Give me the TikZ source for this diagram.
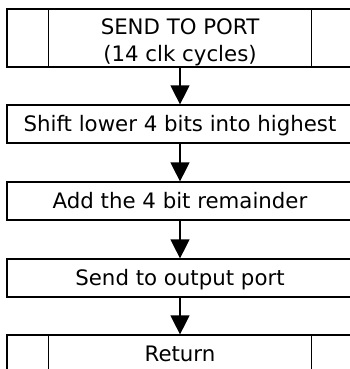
\documentclass[tikz,border=0pt]{standalone}
\usepackage{fontspec}
\setmainfont{DejaVu Sans}
\usetikzlibrary{arrows.meta}
\begin{document}
\begin{tikzpicture}[x=1pt,y=-1pt,
  procbox/.style={draw=black,line width=1.2pt,minimum width=346pt,inner sep=0pt,
    font=\fontsize{21.3}{26}\selectfont,text height=14pt,text depth=0pt},
  label text/.style={inner sep=0pt,anchor=base,font=\fontsize{21.3}{26}\selectfont},
  divider/.style={line width=1.2pt},
  flow/.style={line width=1.2pt,-{Triangle[width=19pt,length=19pt]}}]
\clip (0,0) rectangle (350,369);
\useasboundingbox (0,0) rectangle (350,369);
\node[procbox,minimum height=58pt] (b1) at (180,38) {};
\node[label text] (t1a) at (180,35) {SEND TO PORT};
\node[label text] (t1b) at (180,61) {(14 clk cycles)};
\draw[divider] ([xshift=42pt]b1.north west) -- ([xshift=42pt]b1.south west);
\draw[divider] ([xshift=-42pt]b1.north east) -- ([xshift=-42pt]b1.south east);
\node[procbox,minimum height=38pt] (b2) at (180,124) {Shift lower 4 bits into highest};
\node[procbox,minimum height=38pt] (b3) at (180,201) {Add the 4 bit remainder};
\node[procbox,minimum height=38pt] (b4) at (180,278) {Send to output port};
\node[procbox,minimum height=38pt] (b5) at (180,354) {Return};
\draw[divider] ([xshift=42pt]b5.north west) -- ([xshift=42pt]b5.south west);
\draw[divider] ([xshift=-42pt]b5.north east) -- ([xshift=-42pt]b5.south east);
\draw[flow] (b1) -- (b2);
\draw[flow] (b2) -- (b3);
\draw[flow] (b3) -- (b4);
\draw[flow] (b4) -- (b5);
\end{tikzpicture}
\end{document}
